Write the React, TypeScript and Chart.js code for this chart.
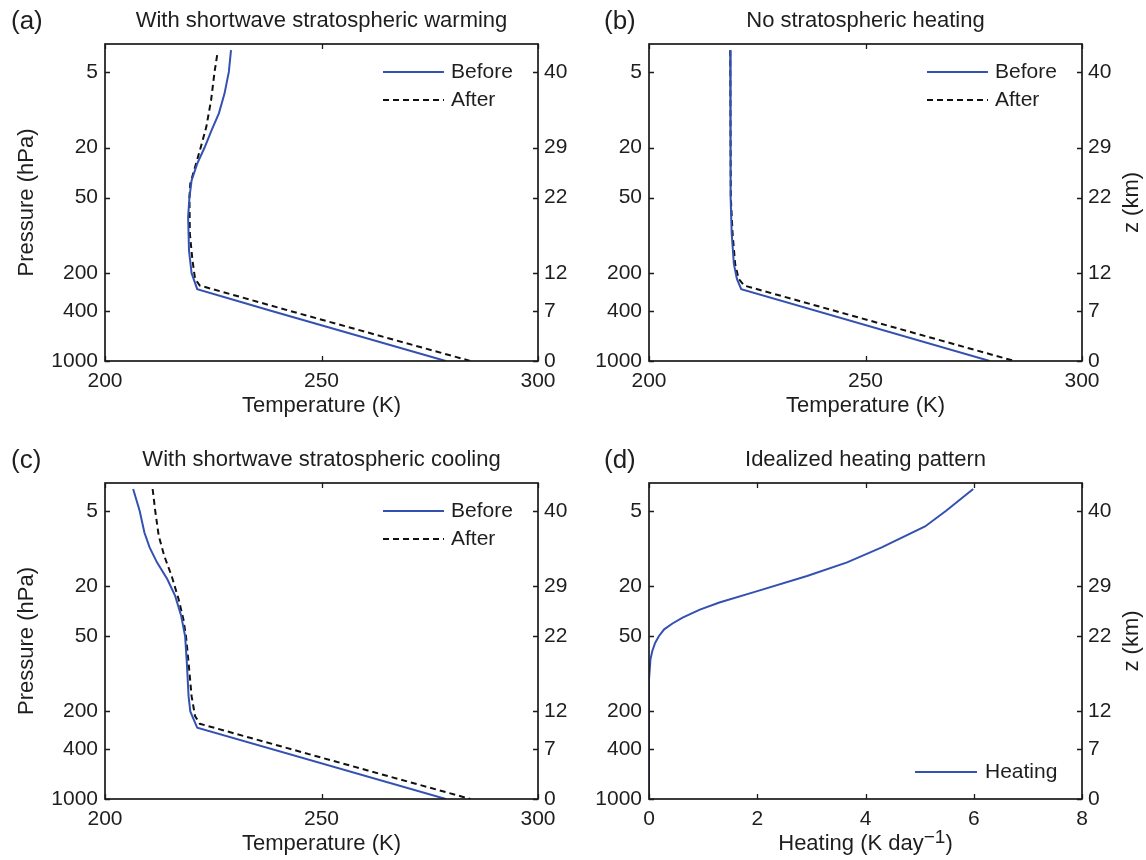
import React, { useEffect, useRef } from 'react';
import { Chart, registerables } from 'chart.js';

Chart.register(...registerables);

// ---------- data ----------
const pressureTicks = [5, 20, 50, 200, 400, 1000];
const zTickLabels = ['40', '29', '22', '12', '7', '0'];

// (a) With shortwave stratospheric warming
const aBeforeP = [3.36, 5, 7.45, 10.7, 14.6, 20, 26.9, 36.5, 50, 71.6, 132, 200, 268, 400, 1000];
const aBeforeT = [229.1, 228.6, 227.6, 226.3, 224.6, 223.0, 221.3, 220.0, 219.5, 219.2, 219.4, 220.0, 221.3, 238.5, 278.7];
const aAfterP = [3.68, 5, 8.4, 13.7, 20, 28.6, 38.8, 50, 97, 158, 222, 251, 400, 1000];
const aAfterT = [225.9, 225.3, 224.5, 223.4, 222.1, 220.8, 219.7, 219.5, 219.6, 220.2, 220.8, 221.9, 242.8, 284.4];

// (b) No stratospheric heating
const bBeforeP = [3.36, 20, 50, 97, 169, 222, 268, 1000];
const bBeforeT = [218.75, 218.8, 218.9, 219.1, 219.6, 220.3, 221.3, 278.7];
const bAfterP = [3.36, 50, 97, 169, 222, 251, 1000];
const bAfterT = [218.75, 218.9, 219.3, 219.9, 220.7, 222.0, 284.4];

// (c) With shortwave stratospheric cooling
const cBeforeP = [3.35, 5, 7.45, 9.8, 12.9, 17.6, 23.9, 34.6, 50, 81.6, 151, 200, 270, 1000];
const cBeforeT = [206.5, 208.0, 209.1, 210.3, 212.0, 214.4, 216.2, 217.6, 218.5, 218.9, 219.3, 219.7, 221.3, 278.7];
const cAfterP = [3.35, 5, 7.9, 11.5, 16.6, 25.4, 36.7, 50, 81.6, 151, 218, 251, 1000];
const cAfterT = [211.0, 211.6, 212.4, 213.7, 215.4, 217.0, 218.1, 218.7, 219.3, 220.0, 220.8, 221.9, 284.4];

// (d) Idealized heating pattern
const dHeatP = [3.35, 5, 6.67, 9.8, 12.9, 16.6, 22.1, 27.0, 30.8, 35.6, 39.7, 44.2, 49.9, 56.5, 65.8, 76.8, 111, 1000];
const dHeatH = [5.99, 5.49, 5.10, 4.30, 3.66, 2.92, 1.97, 1.30, 0.94, 0.62, 0.434, 0.28, 0.185, 0.115, 0.061, 0.027, 0, 0];

// ---------- styles ----------
const FONT = '"Liberation Sans", Arial, Helvetica, sans-serif';
const TEXT = '#1e1e1e';
const AXIS = '#1a1a1a';
const BLUE = '#3451b1';
const BLACK = '#111111';
const CW = 573;
const CH = 430;

type Series = { label: string; p: number[]; v: number[]; color: string; dash: number[] };
type Panel = {
  tag: string;
  title: string;
  xTitle: string;
  xSup?: string;
  xMin: number;
  xMax: number;
  xStep: number;
  leftTitle: boolean;
  rightTitle: boolean;
  legendBottom: boolean;
  area: { left: number; right: number; top: number; bottom: number };
  pos: { left: number; top: number };
  series: Series[];
};

const panels: Panel[] = [
  {
    tag: '(a)', title: 'With shortwave stratospheric warming', xTitle: 'Temperature (K)',
    xMin: 200, xMax: 300, xStep: 50, leftTitle: true, rightTitle: false, legendBottom: false,
    area: { left: 105, right: 538, top: 44, bottom: 361 }, pos: { left: 0, top: 0 },
    series: [
      { label: 'Before', p: aBeforeP, v: aBeforeT, color: BLUE, dash: [] },
      { label: 'After', p: aAfterP, v: aAfterT, color: BLACK, dash: [6, 4] },
    ],
  },
  {
    tag: '(b)', title: 'No stratospheric heating', xTitle: 'Temperature (K)',
    xMin: 200, xMax: 300, xStep: 50, leftTitle: false, rightTitle: true, legendBottom: false,
    area: { left: 76, right: 509, top: 44, bottom: 361 }, pos: { left: 573, top: 0 },
    series: [
      { label: 'Before', p: bBeforeP, v: bBeforeT, color: BLUE, dash: [] },
      { label: 'After', p: bAfterP, v: bAfterT, color: BLACK, dash: [6, 4] },
    ],
  },
  {
    tag: '(c)', title: 'With shortwave stratospheric cooling', xTitle: 'Temperature (K)',
    xMin: 200, xMax: 300, xStep: 50, leftTitle: true, rightTitle: false, legendBottom: false,
    area: { left: 105, right: 538, top: 53, bottom: 369 }, pos: { left: 0, top: 430 },
    series: [
      { label: 'Before', p: cBeforeP, v: cBeforeT, color: BLUE, dash: [] },
      { label: 'After', p: cAfterP, v: cAfterT, color: BLACK, dash: [6, 4] },
    ],
  },
  {
    tag: '(d)', title: 'Idealized heating pattern', xTitle: 'Heating (K day', xSup: '\u22121',
    xMin: 0, xMax: 8, xStep: 2, leftTitle: false, rightTitle: true, legendBottom: true,
    area: { left: 76, right: 509, top: 53, bottom: 369 }, pos: { left: 573, top: 430 },
    series: [
      { label: 'Heating', p: dHeatP, v: dHeatH, color: BLUE, dash: [] },
    ],
  },
];

function makeDecor(panel: Panel) {
  return {
    id: 'decor',
    afterDraw(chart: any) {
      const { ctx, chartArea: ca } = chart;
      const xs = chart.scales.x;
      const ys = chart.scales.y;
      ctx.save();
      // box
      ctx.strokeStyle = AXIS;
      ctx.lineWidth = 1.7;
      ctx.setLineDash([]);
      ctx.strokeRect(ca.left, ca.top, ca.right - ca.left, ca.bottom - ca.top);
      // inward ticks
      ctx.lineWidth = 1.3;
      const tl = 5;
      ctx.beginPath();
      xs.ticks.forEach((t: any) => {
        const px = Math.round(xs.getPixelForValue(t.value)) + 0.5;
        ctx.moveTo(px, ca.bottom);
        ctx.lineTo(px, ca.bottom - tl);
        ctx.moveTo(px, ca.top);
        ctx.lineTo(px, ca.top + tl);
      });
      ys.ticks.forEach((t: any) => {
        const py = Math.round(ys.getPixelForValue(t.value)) + 0.5;
        ctx.moveTo(ca.left, py);
        ctx.lineTo(ca.left + tl, py);
        ctx.moveTo(ca.right, py);
        ctx.lineTo(ca.right - tl, py);
      });
      ctx.stroke();

      const cx = (ca.left + ca.right) / 2;
      const cy = (ca.top + ca.bottom) / 2;
      ctx.fillStyle = TEXT;
      ctx.textBaseline = 'middle';

      // panel tag
      ctx.font = `26px ${FONT}`;
      ctx.textAlign = 'left';
      ctx.fillText(panel.tag, panel.pos.left === 0 ? 11 : 31, ca.top - 22);

      // title
      ctx.font = `22px ${FONT}`;
      ctx.textAlign = 'center';
      ctx.fillText(panel.title, cx, ca.top - 23);

      // x title
      const ty = ca.bottom + 45;
      if (panel.xSup) {
        const mainW = ctx.measureText(panel.xTitle).width;
        ctx.font = `19px ${FONT}`;
        const supW = ctx.measureText(panel.xSup).width;
        ctx.font = `22px ${FONT}`;
        const closeW = ctx.measureText(')').width;
        const total = mainW + supW + closeW;
        let x0 = cx - total / 2;
        ctx.textAlign = 'left';
        ctx.fillText(panel.xTitle, x0, ty);
        x0 += mainW;
        ctx.font = `19px ${FONT}`;
        ctx.fillText(panel.xSup, x0, ty - 6);
        x0 += supW;
        ctx.font = `22px ${FONT}`;
        ctx.fillText(')', x0, ty);
      } else {
        ctx.fillText(panel.xTitle, cx, ty);
      }

      // left title
      if (panel.leftTitle) {
        ctx.save();
        ctx.translate(27, cy);
        ctx.rotate(-Math.PI / 2);
        ctx.textAlign = 'center';
        ctx.fillText('Pressure (hPa)', 0, 0);
        ctx.restore();
      }
      // right title
      if (panel.rightTitle) {
        ctx.save();
        ctx.translate(ca.right + 50, cy);
        ctx.rotate(-Math.PI / 2);
        ctx.textAlign = 'center';
        ctx.fillText('z (km)', 0, 0);
        ctx.restore();
      }

      // legend
      ctx.font = `21px ${FONT}`;
      ctx.textAlign = 'left';
      chart.data.datasets.forEach((ds: any, i: number) => {
        let y: number, x1: number, x2: number, xt: number;
        if (panel.legendBottom) {
          y = ca.bottom - 27;
          x1 = ca.right - 167; x2 = ca.right - 105; xt = ca.right - 97;
        } else {
          y = ca.top + 28 + i * 28;
          x1 = ca.right - 155; x2 = ca.right - 94; xt = ca.right - 87;
        }
        ctx.strokeStyle = ds.borderColor;
        ctx.lineWidth = 2;
        ctx.setLineDash(ds.borderDash || []);
        ctx.beginPath();
        ctx.moveTo(x1, y);
        ctx.lineTo(x2, y);
        ctx.stroke();
        ctx.setLineDash([]);
        ctx.fillStyle = TEXT;
        ctx.fillText(ds.label, xt, y);
      });
      ctx.restore();
    },
  };
}

function buildConfig(panel: Panel): any {
  const a = panel.area;
  const tickFont = { family: FONT, size: 21 };
  return {
    type: 'line',
    data: {
      datasets: panel.series.map((s) => ({
        label: s.label,
        data: s.p.map((p, i) => ({ x: s.v[i], y: p })),
        borderColor: s.color,
        borderDash: s.dash,
        borderWidth: 2,
        pointRadius: 0,
        fill: false,
        tension: 0,
      })),
    },
    options: {
      animation: false,
      responsive: false,
      devicePixelRatio: 1,
      layout: { padding: { top: a.top, left: 0, right: 0, bottom: 0 } },
      plugins: { legend: { display: false }, tooltip: { enabled: false } },
      scales: {
        x: {
          type: 'linear',
          position: 'bottom',
          min: panel.xMin,
          max: panel.xMax,
          grid: { display: false, drawTicks: false, tickLength: 0 },
          border: { display: false },
          ticks: { stepSize: panel.xStep, font: tickFont, color: TEXT, padding: 8, maxRotation: 0 },
          afterFit: (s: any) => { s.height = CH - a.bottom; },
        },
        y: {
          type: 'logarithmic',
          position: 'left',
          min: 3,
          max: 1000,
          reverse: true,
          grid: { display: false, drawTicks: false, tickLength: 0 },
          border: { display: false },
          afterBuildTicks: (s: any) => { s.ticks = pressureTicks.map((v) => ({ value: v })); },
          ticks: { font: tickFont, color: TEXT, padding: 7, callback: (v: any) => String(v) },
          afterFit: (s: any) => { s.width = a.left; },
        },
        y2: {
          type: 'logarithmic',
          position: 'right',
          min: 3,
          max: 1000,
          reverse: true,
          grid: { display: false, drawTicks: false, tickLength: 0 },
          border: { display: false },
          afterBuildTicks: (s: any) => { s.ticks = pressureTicks.map((v) => ({ value: v })); },
          ticks: {
            font: tickFont, color: TEXT, padding: 6,
            callback: (_v: any, idx: number) => zTickLabels[idx],
          },
          afterFit: (s: any) => { s.width = CW - a.right; },
        },
      },
    },
    plugins: [makeDecor(panel)],
  };
}

function PanelChart({ panel }: { panel: Panel }) {
  const ref = useRef<HTMLCanvasElement>(null);
  useEffect(() => {
    const chart = new Chart(ref.current as HTMLCanvasElement, buildConfig(panel));
    return () => chart.destroy();
  }, [panel]);
  return (
    <canvas
      ref={ref}
      width={CW}
      height={CH}
      style={{ position: 'absolute', left: panel.pos.left, top: panel.pos.top, width: CW, height: CH }}
    />
  );
}

export default function App() {
  return (
    <div style={{ position: 'absolute', left: 0, top: 0, width: 1146, height: 860, background: '#ffffff' }}>
      {panels.map((p) => (
        <PanelChart key={p.tag} panel={p} />
      ))}
    </div>
  );
}
